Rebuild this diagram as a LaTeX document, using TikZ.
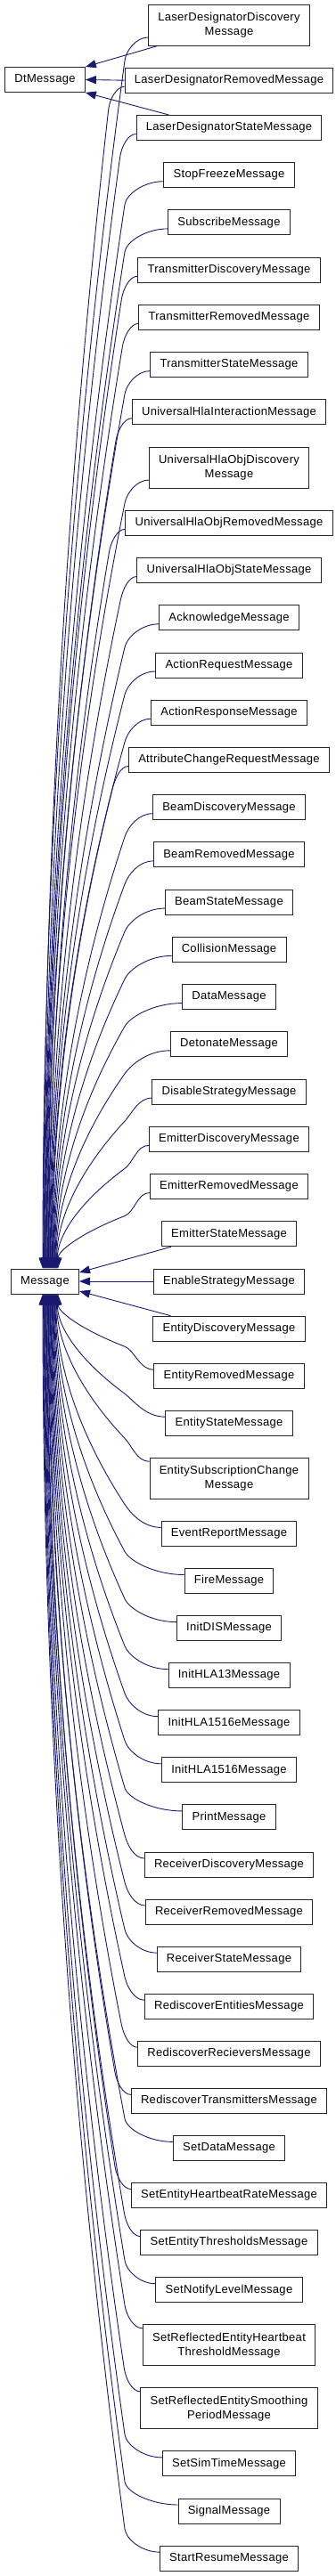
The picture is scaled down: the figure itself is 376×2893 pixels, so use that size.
\documentclass[tikz,border=0pt]{standalone}
\usepackage{fontspec}
\setmainfont{Liberation Sans}[LetterSpace=2.3]
\usetikzlibrary{calc,arrows.meta}
\definecolor{mblue}{HTML}{191970}
\begin{document}
\begin{tikzpicture}[x=1pt,y=-1pt,
  cls/.style={draw=black!85,line width=0.9pt,fill=white,font=\fontsize{13}{16}\selectfont,inner xsep=10.8pt,inner ysep=3pt,minimum height=28pt,align=center},
  dbl/.style={cls,minimum height=46pt},
  inh/.style={draw=mblue,line width=0.9pt,-{Triangle[length=12pt,width=9pt]}}]
\useasboundingbox (0,0) rectangle (376,2893);
\node[cls] (dt) at (50.5,89.5) {DtMessage};
\node[cls] (msg) at (50.5,1439) {Message};
\node[dbl] (n1) at (257,28) {LaserDesignatorDiscovery\\Message};
\node[cls] (n2) at (257,90.2) {LaserDesignatorRemovedMessage};
\node[cls] (n3) at (257,143.5) {LaserDesignatorStateMessage};
\node[cls] (n4) at (257,196.7) {StopFreezeMessage};
\node[cls] (n5) at (257,249.9) {SubscribeMessage};
\node[cls] (n6) at (257,303.2) {TransmitterDiscoveryMessage};
\node[cls] (n7) at (257,356.4) {TransmitterRemovedMessage};
\node[cls] (n8) at (257,409.6) {TransmitterStateMessage};
\node[cls] (n9) at (257,462.8) {UniversalHlaInteractionMessage};
\node[dbl] (n10) at (257,525.1) {UniversalHlaObjDiscovery\\Message};
\node[cls] (n11) at (257,587.3) {UniversalHlaObjRemovedMessage};
\node[cls] (n12) at (257,640.5) {UniversalHlaObjStateMessage};
\node[cls] (n13) at (257,693.8) {AcknowledgeMessage};
\node[cls] (n14) at (257,747) {ActionRequestMessage};
\node[cls] (n15) at (257,800.2) {ActionResponseMessage};
\node[cls] (n16) at (257,853.5) {AttributeChangeRequestMessage};
\node[cls] (n17) at (257,906.7) {BeamDiscoveryMessage};
\node[cls] (n18) at (257,959.9) {BeamRemovedMessage};
\node[cls] (n19) at (257,1013.1) {BeamStateMessage};
\node[cls] (n20) at (257,1066.4) {CollisionMessage};
\node[cls] (n21) at (257,1119.6) {DataMessage};
\node[cls] (n22) at (257,1172.8) {DetonateMessage};
\node[cls] (n23) at (257,1226.1) {DisableStrategyMessage};
\node[cls] (n24) at (257,1279.3) {EmitterDiscoveryMessage};
\node[cls] (n25) at (257,1332.5) {EmitterRemovedMessage};
\node[cls] (n26) at (257,1385.8) {EmitterStateMessage};
\node[cls] (n27) at (257,1439) {EnableStrategyMessage};
\node[cls] (n28) at (257,1492.1) {EntityDiscoveryMessage};
\node[cls] (n29) at (257,1545.2) {EntityRemovedMessage};
\node[cls] (n30) at (257,1598.2) {EntityStateMessage};
\node[dbl] (n31) at (257,1660.3) {EntitySubscriptionChange\\Message};
\node[cls] (n32) at (257,1722.4) {EventReportMessage};
\node[cls] (n33) at (257,1775.5) {FireMessage};
\node[cls] (n34) at (257,1828.6) {InitDISMessage};
\node[cls] (n35) at (257,1881.6) {InitHLA13Message};
\node[cls] (n36) at (257,1934.7) {InitHLA1516eMessage};
\node[cls] (n37) at (257,1987.8) {InitHLA1516Message};
\node[cls] (n38) at (257,2040.9) {PrintMessage};
\node[cls] (n39) at (257,2094) {ReceiverDiscoveryMessage};
\node[cls] (n40) at (257,2147) {ReceiverRemovedMessage};
\node[cls] (n41) at (257,2200.1) {ReceiverStateMessage};
\node[cls] (n42) at (257,2253.2) {RediscoverEntitiesMessage};
\node[cls] (n43) at (257,2306.3) {RediscoverRecieversMessage};
\node[cls] (n44) at (257,2359.4) {RediscoverTransmittersMessage};
\node[cls] (n45) at (257,2412.4) {SetDataMessage};
\node[cls] (n46) at (257,2465.5) {SetEntityHeartbeatRateMessage};
\node[cls] (n47) at (257,2518.6) {SetEntityThresholdsMessage};
\node[cls] (n48) at (257,2571.7) {SetNotifyLevelMessage};
\node[dbl] (n49) at (257,2633.8) {SetReflectedEntityHeartbeat\\ThresholdMessage};
\node[dbl] (n50) at (257,2704.8) {SetReflectedEntitySmoothing\\PeriodMessage};
\node[cls] (n51) at (257,2766.9) {SetSimTimeMessage};
\node[cls] (n52) at (257,2820) {SignalMessage};
\node[cls] (n53) at (257,2873.1) {StartResumeMessage};
% edges to DtMessage
\draw[inh] ($(n1.south west)+(11,0)$) -- (dt.north east);
\draw[inh] (n2.west) -- (dt.east);
\draw[inh] ($(n3.north west)+(37,0)$) -- (dt.south east);
% edges to Message, children above
\foreach \nd/\off [count=\k] in {n1/14,n2/7,n3/7,n4/7,n5/7,n6/7,n7/7,n8/7,n9/7,n10/14,n11/7,n12/7,n13/7,n14/7,n15/7,n16/7,n17/7,n18/7,n19/7,n20/7,n21/7,n22/7,n23/7,n24/7,n25/7}{
  \pgfmathsetmacro\dx{36+17*(\k-1)/24}
  \coordinate (S) at ($(\nd.west)+(0,\off)$);
  \coordinate (T) at ($(msg.north west)+(\dx,0)$);
  \path let \p1=(S) in ({min(140pt,\x1-18pt)},{\y1-26pt}) coordinate (B);
  \coordinate (P) at ($(T)!0.5!(T|-B)$);
  \draw[inh] (S) .. controls ($(S)!0.5!(S-|B)$) and ($(B)!-12pt!(P)$) .. (B) .. controls ($(B)!0.6667!(P)$) and ($(T)!0.6667!(P)$) .. (T);
}
% edges to Message, children below
\foreach \nd/\off [count=\k] in {n29/7,n30/7,n31/19,n32/7,n33/7,n34/7,n35/7,n36/7,n37/7,n38/7,n39/7,n40/7,n41/7,n42/7,n43/7,n44/7,n45/7,n46/7,n47/7,n48/7,n49/19,n50/19,n51/7,n52/7,n53/7}{
  \pgfmathsetmacro\dx{53-17*(\k-1)/24}
  \coordinate (S) at ($(\nd.west)+(0,-\off)$);
  \coordinate (T) at ($(msg.south west)+(\dx,0)$);
  \path let \p1=(S) in ({min(140pt,\x1-18pt)},{\y1+26pt}) coordinate (B);
  \coordinate (P) at ($(T)!0.5!(T|-B)$);
  \draw[inh] (S) .. controls ($(S)!0.5!(S-|B)$) and ($(B)!-12pt!(P)$) .. (B) .. controls ($(B)!0.6667!(P)$) and ($(T)!0.6667!(P)$) .. (T);
}
% near children, straight edges
\draw[inh] ($(n26.south west)+(11,0)$) -- ($(msg.east)+(0,-10)$);
\draw[inh] (n27.west) -- (msg.east);
\draw[inh] ($(n28.north west)+(20,0)$) -- ($(msg.east)+(0,11)$);
\end{tikzpicture}
\end{document}
